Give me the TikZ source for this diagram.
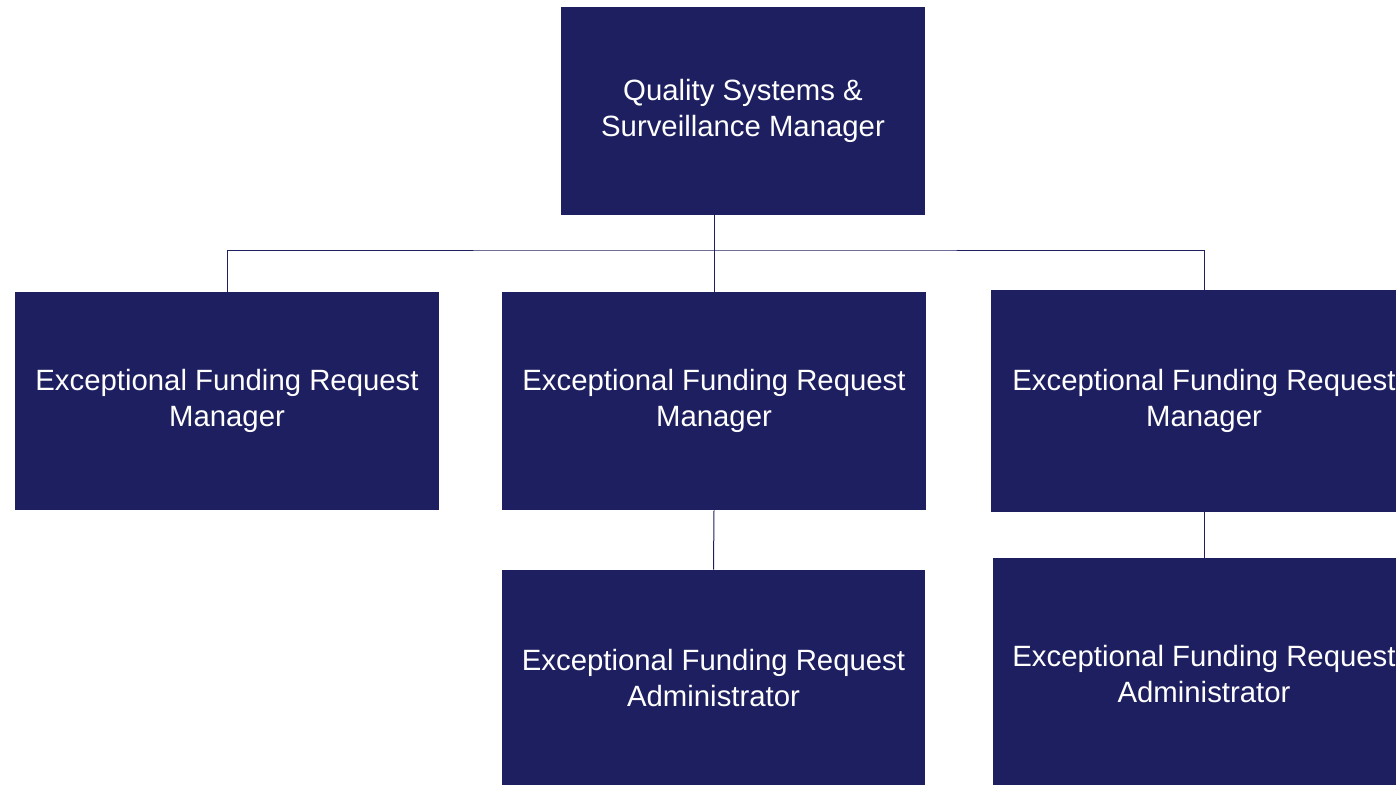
\documentclass[tikz,border=0pt]{standalone}
\usepackage{fontspec}
\setmainfont{Liberation Sans}
\usepackage{tikz}
\usetikzlibrary{positioning, calc}
\usepackage{xcolor}
\definecolor{orgnavy}{RGB}{30,31,96}

\tikzset{
  rolebox/.style={fill=orgnavy, text=white, align=center, inner sep=0pt,
    font=\fontsize{22}{26.5}\selectfont},
  link/.style={orgnavy, line width=0.75pt}
}

\begin{document}
\begin{tikzpicture}[x=0.75pt,y=-0.75pt]
  \useasboundingbox (0,0) rectangle (1396,785);
  \clip (0,0) rectangle (1396,785);
  % boxes
  \node[rolebox,minimum width=273pt,minimum height=156pt] (qssm) at(743,111){Quality Systems \&\\Surveillance Manager};
  \node[rolebox,minimum width=318pt,minimum height=163.5pt] (efrmA) at(227,401){Exceptional Funding Request\\Manager};
  \node[rolebox,minimum width=318pt,minimum height=163.5pt] (efrmB) at(714,401){Exceptional Funding Request\\Manager};
  \node[rolebox,minimum width=319.5pt,minimum height=166.5pt] (efrmC) at(1204,401){Exceptional Funding Request\\Manager};
  \node[rolebox,minimum width=317.25pt,minimum height=162pt] (efraB) at(713.5,678){Exceptional Funding Request\\Administrator};
  \node[rolebox,minimum width=316.5pt,minimum height=174pt] (efraC) at(1204,674){Exceptional Funding Request\\Administrator};
  % lines
  \coordinate (bus) at(714,250);
  \draw[link] (qssm.south -| efrmB.north) -- (efrmB.north);
  \draw[link] (efrmA.north) |- (bus) -| (efrmC.north);
  \draw[link] (efrmB.south) -- (efraB.north);
  \draw[link] (efrmC.south) -- (efraC.north);
\end{tikzpicture}
\end{document}
